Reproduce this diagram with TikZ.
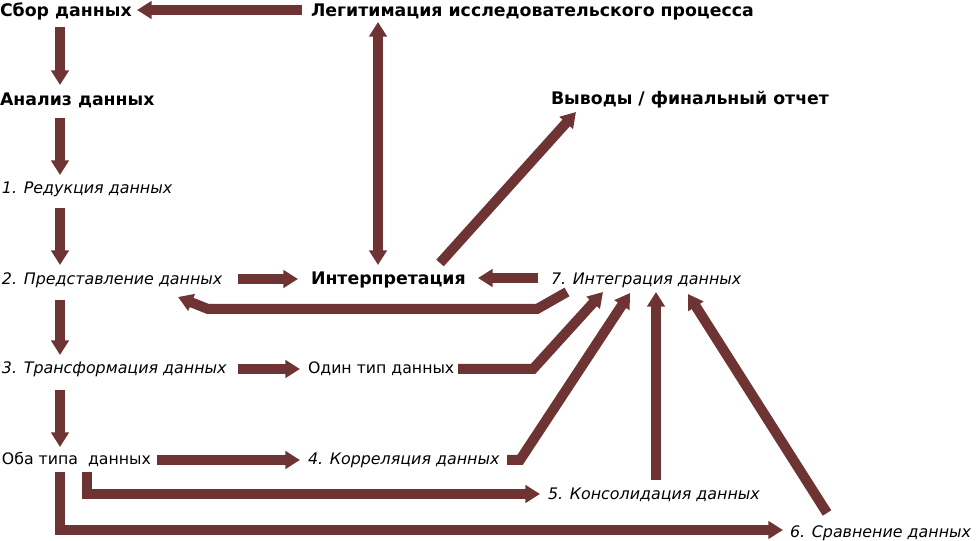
\documentclass[tikz,border=0pt]{standalone}
\usepackage{fontspec}
\setmainfont{DejaVu Sans}
\usetikzlibrary{arrows.meta,calc}
\definecolor{arrowc}{RGB}{110,52,52}
\tikzset{
  lbl/.style={anchor=base west,inner sep=0pt,outer sep=0pt},
  bld/.style={lbl,font=\fontsize{13.0}{15}\selectfont\bfseries},
  itl/.style={lbl,font=\fontsize{11.9}{14}\selectfont\itshape},
  reg/.style={lbl,font=\fontsize{11.8}{14}\selectfont},
  arr/.style={draw=arrowc,line width=7.5pt,line cap=butt,line join=miter,
    -{Triangle[width=13pt,length=11pt]}},
  darr/.style={arr,{Triangle[width=13pt,length=11pt]}-{Triangle[width=13pt,length=11pt]}}
}
\begin{document}
\begin{tikzpicture}[x=0.75pt,y=-0.75pt]
\useasboundingbox (0,0) rectangle (976,541);
\node[bld] (sbor) at (0,17) {Сбор данных};
\node[bld] (legit) at (311,17) {Легитимация исследовательского процесса};
\node[bld] (analiz) at (0,106) {Анализ данных};
\node[bld] (vyvody) at (551,105) {Выводы / финальный отчет};
\node[itl] (red) at (2,194) {1. Редукция данных};
\node[itl] (pred) at (2,285) {2. Представление данных};
\node[bld] (interp) at (311,285) {Интерпретация};
\node[itl] (integ) at (551,285) {7. Интеграция данных};
\node[itl] (trans) at (2,374) {3. Трансформация данных};
\node[reg] (odin) at (308,374) {Один тип данных};
\node[reg] (oba) at (2,465) {Оба типа~ данных};
\node[itl] (korr) at (308,465) {4. Корреляция данных};
\node[itl] (kons) at (548,500) {5. Консолидация данных};
\node[itl] (sravn) at (790,538) {6. Сравнение данных};

\draw[arr] ($(legit.base west)+(-9,-7)$) -- ($(sbor.base west)+(137,-7)$);
\draw[arr] ($(sbor.base west)+(60,10)$) -- ($(analiz.base west)+(60,-21)$);
\draw[arr] ($(analiz.base west)+(60,12)$) -- ($(red.base west)+(58,-19)$);
\draw[arr] ($(red.base west)+(58,14)$) -- ($(pred.base west)+(58,-20)$);
\draw[arr] ($(pred.base west)+(58,15)$) -- ($(trans.base west)+(58,-19)$);
\draw[arr] ($(trans.base west)+(58,16)$) -- ($(oba.base west)+(58,-18)$);
\draw[arr] ($(oba.base west)+(155,-5)$) -- ($(korr.base west)+(-8,-5)$);
\draw[arr] ($(oba.base west)+(85,7)$) |- ($(kons.base west)+(-8,-6)$);
\draw[arr] ($(oba.base west)+(58,7)$) |- ($(sravn.base west)+(-7,-8)$);
\draw[arr] ($(pred.base west)+(236,-6)$) -- ($(interp.base west)+(-13,-6)$);
\draw[arr] ($(integ.base west)+(-13,-7)$) -- ($(interp.base west)+(167,-7)$);
\draw[arr] ($(integ.base west)+(16,7)$) -- ($(integ.base west)+(-14,24)$)
  -- ($(pred.base west)+(206,24)$) -- ($(pred.base west)+(176,12)$);
\draw[darr] ($(legit.base west)+(67,5)$) -- ($(interp.base west)+(67,-20)$);
\draw[arr] ($(interp.base west)+(129,-22)$) -- ($(vyvody.base west)+(25,7)$);
\draw[arr] ($(trans.base west)+(236,-5)$) -- ($(odin.base west)+(-8,-5)$);
\draw[arr] ($(odin.base west)+(150,-5)$) -- ($(odin.base west)+(225,-5)$)
  -- ($(integ.base west)+(52,7)$);
\draw[arr] ($(korr.base west)+(199,-5)$) -- ($(korr.base west)+(212,-5)$)
  -- ($(integ.base west)+(79,8)$);
\draw[arr] ($(kons.base west)+(108,-20)$) -- ($(kons.base west)+(108,-208)$);
\draw[arr] ($(sravn.base west)+(37,-25)$) -- ($(integ.base west)+(137,9)$);
\end{tikzpicture}
\end{document}
